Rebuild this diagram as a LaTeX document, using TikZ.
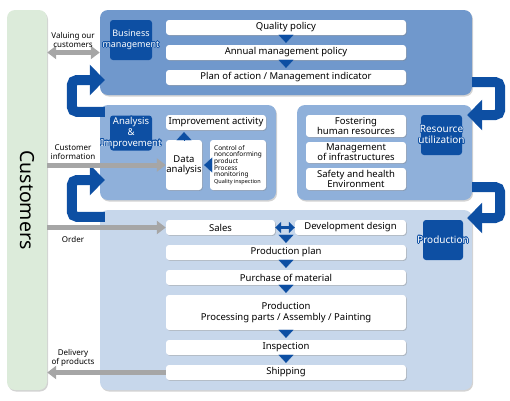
\documentclass[tikz,border=0pt]{standalone}
\usepackage{fontspec}
\setmainfont{Noto Sans}
\usetikzlibrary{arrows.meta,shadows}
\usepackage{contour}
\contourlength{0.6pt}
\definecolor{custgreen}{RGB}{220,235,218}
\definecolor{bmblue}{RGB}{112,152,204}
\definecolor{midblue}{RGB}{143,176,218}
\definecolor{lightblue}{RGB}{199,215,235}
\definecolor{darkblue}{RGB}{13,79,163}
\definecolor{arrowgrey}{RGB}{166,166,166}
\newcommand\wlab[1]{\contour{darkblue}{#1}}
\tikzset{
  panel/.style={rounded corners=8pt, inner sep=0pt, drop shadow={shadow xshift=1pt,shadow yshift=-1.5pt,opacity=.35}},
  wbox/.style={fill=white, rounded corners=3pt, inner sep=1pt, align=center,
    font=\fontsize{9.5}{10.5}\selectfont, minimum width=240pt, minimum height=15pt,
    drop shadow={shadow xshift=.8pt,shadow yshift=-.8pt,opacity=.4}},
  labbox/.style={fill=darkblue, rounded corners=3pt, text=white, align=center, inner ysep=0pt, inner xsep=-12pt,
    font=\fontsize{9.5}{11}\selectfont, minimum width=42pt, minimum height=40pt},
  glabel/.style={font=\fontsize{8}{8.5}\selectfont, align=center, inner sep=0pt},
  tri/.style={darkblue, line width=.2pt, -{Triangle[width=15pt,length=8pt]}, shorten >=2pt},
  garrow/.style={arrowgrey, line width=5pt, -{Triangle[width=13pt,length=9pt]}},
  uarrow/.style={darkblue, line width=10pt, rounded corners=5pt, -{Triangle[width=30pt,length=15pt]}}
}
\begin{document}
\begin{tikzpicture}[x=1pt,y=-1pt]
\useasboundingbox (0,0) rectangle (510,400);
% customers
\node[fill=custgreen, rounded corners=8pt, minimum width=40pt, minimum height=380pt,
  drop shadow={shadow xshift=1pt,shadow yshift=-1.5pt,opacity=.35}] (cust) at (27,200) {};
\node[rotate=-90, font=\fontsize{19.5}{20}\selectfont] (custlab) at (cust.center) {Customers};
% panels
\node[panel, fill=bmblue, minimum width=372pt, minimum height=85pt] (bm) at (286,52.5) {};
\node[panel, fill=midblue, minimum width=176pt, minimum height=95pt] (ai) at (188,152.5) {};
\node[panel, fill=midblue, minimum width=175pt, minimum height=95pt] (ru) at (384.5,152.5) {};
\node[panel, fill=lightblue, minimum width=372pt, minimum height=180pt] (pr) at (286,300) {};
% cycle arrows
\draw[uarrow] ([xshift=5pt,yshift=-7pt]ai.north west) -- ++(-33,0) |- ([xshift=5pt,yshift=-27.5pt]bm.west);
\draw[uarrow] ([xshift=5pt,yshift=-7pt]pr.north west) -- ++(-33,0) |- ([xshift=5pt,yshift=-27.5pt]ai.west);
\draw[uarrow] ([yshift=-29.5pt]bm.east) -- ++(28,0) |- ([xshift=-5pt,yshift=37.5pt]ru.east);
\draw[uarrow] ([yshift=-34.5pt]ru.east) -- ++(28,0) |- ([xshift=-5pt,yshift=82pt]pr.east);
% business management
\node[labbox, font=\fontsize{9}{11}\selectfont] (bmlab) at (131,40) {\wlab{Business}\\\wlab{management}};
\node[wbox] (qp) at (286,27.5) {Quality policy};
\node[wbox] (amp) at (286,52.5) {Annual management policy};
\node[wbox] (poa) at (286,77.5) {Plan of action / Management indicator};
\draw[tri] (qp) -- (amp);
\draw[tri] (amp) -- (poa);
% analysis and improvement
\node[labbox, minimum height=35pt, font=\fontsize{9.5}{11}\selectfont] (ailab) at (131,133) {\wlab{Analysis}\\\wlab{\&}\\\wlab{Improvement}};
\node[wbox, minimum width=100pt] (ia) at (216,122.5) {Improvement activity};
\node[wbox, minimum width=36pt, minimum height=50pt, inner sep=0pt] (da) at (184,165) {Data\\analysis};
\node[wbox, minimum width=56pt, minimum height=50pt, align=left, inner sep=0pt,
  font=\fontsize{6.5}{6.6}\selectfont] (ctl) at (238,165)
  {Control of\\nonconforming\\product\\Process\\monitoring\\{\fontsize{5.5}{6.5}\selectfont Quality inspection}};
\draw[tri] (da) -- (da |- ia.south);
\draw[tri] (ctl) -- (da);
% resource utilization
\node[labbox, minimum width=41pt, font=\fontsize{10}{11.5}\selectfont] (rulab) at (441.5,135) {\wlab{Resource}\\\wlab{utilization}};
\node[wbox, minimum width=100pt, minimum height=22pt, font=\fontsize{9.5}{10}\selectfont] (fhr) at (356,126) {Fostering\\human resources};
\node[wbox, minimum width=100pt, minimum height=21pt, font=\fontsize{9.5}{10}\selectfont] (moi) at (356,152.5) {Management\\of infrastructures};
\node[wbox, minimum width=100pt, minimum height=22pt, font=\fontsize{9.5}{10}\selectfont] (she) at (356,179) {Safety and health\\Environment};
% production
\node[labbox, minimum width=40pt, font=\fontsize{10}{11.5}\selectfont] (prlab) at (443,240) {\wlab{Production}};
\node[wbox, minimum width=109pt] (sales) at (220.5,227.5) {Sales};
\node[wbox, minimum width=111pt] (dd) at (350.5,227.5) {Development design};
\node[wbox] (pp) at (286,252.5) {Production plan};
\node[wbox] (pm) at (286,277.5) {Purchase of material};
\node[wbox, minimum height=35pt, font=\fontsize{9.5}{11}\selectfont] (prod) at (286,312.5) {Production\\Processing parts / Assembly / Painting};
\node[wbox] (insp) at (286,347.5) {Inspection};
\node[wbox] (ship) at (286,372.5) {Shipping};
\draw[darkblue, line width=3pt, {Triangle[width=11pt,length=6pt]}-{Triangle[width=11pt,length=6pt]}] (sales) -- (dd);
\draw[tri] (pp.north |- sales.south) -- (pp);
\draw[tri] (pp) -- (pm);
\draw[tri] (pm) -- (prod);
\draw[tri] (prod) -- (insp);
\draw[tri] (insp) -- (ship);
% customer links
\draw[garrow, {Triangle[width=13pt,length=9pt]}-{Triangle[width=13pt,length=9pt]}] (cust.east |- bm.west) -- (bm.west);
\draw[garrow] (cust.east |- da.west) -- (da.west);
\draw[garrow] (cust.east |- sales.west) -- (sales.west);
\draw[garrow] (ship.west) -- (cust.east |- ship.west);
\node[glabel] (vallab) at (73,40) {Valuing our\\customers};
\node[glabel] (infolab) at (73,152) {Customer\\information};
\node[glabel] (orderlab) at (73,239) {Order};
\node[glabel] (delivlab) at (73,358) {Delivery\\of products};
\end{tikzpicture}
\end{document}
